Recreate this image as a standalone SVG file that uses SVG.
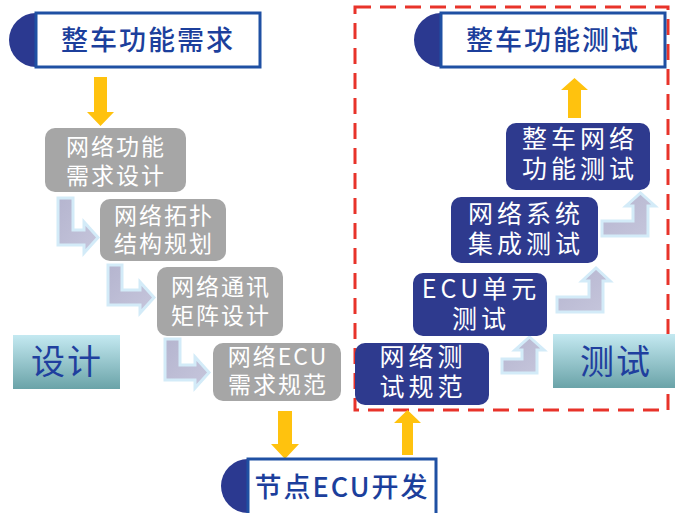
<svg xmlns="http://www.w3.org/2000/svg" width="675" height="513" viewBox="0 0 675 513">
  <defs>
    <linearGradient id="lbl" x1="0" y1="0" x2="0" y2="1">
      <stop offset="0" stop-color="#c4e9f1"/>
      <stop offset="1" stop-color="#6aa3a8"/>
    </linearGradient>
    <linearGradient id="bent" x1="0" y1="0" x2="1" y2="1">
      <stop offset="0" stop-color="#b5b5cf"/>
      <stop offset="1" stop-color="#c6c6dc"/>
    </linearGradient>
  </defs>
  <style>
    .hdr { fill: #ffffff; stroke: #1f50a3; stroke-width: 3; }
    .cap { fill: #2b3990; }
    .hdrt { font-family: "Noto Sans CJK SC", "Liberation Sans", sans-serif; font-size: 27px; font-weight: 500; fill: #1c3f9c; text-anchor: middle; letter-spacing: 2px; }
    .gray { fill: #a6a6a6; }
    .dark { fill: #2e3a8e; }
    .gt { font-family: "Noto Sans CJK SC", "Liberation Sans", sans-serif; font-size: 23px; fill: #ffffff; text-anchor: middle; letter-spacing: 2px; }
    .dt { font-family: "Noto Sans CJK SC", "Liberation Sans", sans-serif; font-size: 25px; fill: #ffffff; text-anchor: middle; letter-spacing: 4px; }
    .lbl { fill: url(#lbl); }
    .lblt { font-family: "Noto Sans CJK SC", "Liberation Sans", sans-serif; font-size: 34px; fill: #1f3f9e; text-anchor: middle; letter-spacing: 2px; }
    .yel { fill: #ffc20e; }
    .bent { fill: url(#bent); stroke: #d3ebf8; stroke-width: 3; stroke-linejoin: miter; }
    .zone { fill: none; stroke: #e8332a; stroke-width: 3; stroke-dasharray: 16 9; }
  </style>

  <rect class="zone" x="355" y="7" width="313" height="403"/>

  <g id="connectors">
    <polygon class="yel" points="94,77 107,77 107,112 114,112 100.5,126 87,112 94,112"/>
    <polygon class="yel" points="278,411 292,411 292,444 299,444 285,459 271,444 278,444"/>
    <polygon class="yel" points="402,455 413,455 413,423 421,423 407.5,410 394,423 402,423"/>
    <polygon class="yel" points="568,118 581,118 581,90 588,90 574.5,78 561,90 568,90"/>
    <path class="bent" d="M58,198 H73 V230 H84 V222 L98,237.5 L84,253 V245 H58 Z"/>
    <path class="bent" d="M108,265 H122 V290 H140 V282 L154,297.5 L140,313 V305 H108 Z"/>
    <path class="bent" d="M165,339 H180 V365 H195 V357 L209,372.5 L195,388 V380 H165 Z"/>
    <path class="bent" d="M502,359 H522 V350 H515 L529.5,337 L544,350 H537 V373 H502 Z"/>
    <path class="bent" d="M557,297 H589 V281 H582 L596,268 L610,281 H603 V312 H557 Z"/>
    <path class="bent" d="M602,221 H633 V206 H626 L640.5,193 L655,206 H648 V236 H602 Z"/>
  </g>

  <g id="req">
    <path class="cap" d="M36,13 A27,27 0 0 0 36,67 Z"/>
    <rect class="hdr" x="36" y="13" width="224" height="54"/>
    <text class="hdrt" x="148" y="50">整车功能需求</text>
  </g>

  <g id="vtest">
    <path class="cap" d="M441,13 A27,27 0 0 0 441,67 Z"/>
    <rect class="hdr" x="441" y="13" width="224" height="54"/>
    <text class="hdrt" x="553" y="50">整车功能测试</text>
  </g>

  <g id="ecu">
    <path class="cap" d="M248,459 A27,27 0 0 0 248,513 Z"/>
    <rect class="hdr" x="248" y="459" width="188" height="58"/>
    <text class="hdrt" x="342" y="497">节点ECU开发</text>
  </g>

  <g id="g1">
    <rect class="gray" x="45" y="128" width="141" height="64" rx="10"/>
    <text class="gt"><tspan x="116" y="155">网络功能</tspan><tspan x="116" y="184">需求设计</tspan></text>
  </g>
  <g id="g2">
    <rect class="gray" x="100" y="199" width="126" height="62" rx="10"/>
    <text class="gt"><tspan x="164" y="224">网络拓扑</tspan><tspan x="164" y="252">结构规划</tspan></text>
  </g>
  <g id="g3">
    <rect class="gray" x="157" y="267" width="126" height="69" rx="10"/>
    <text class="gt"><tspan x="221" y="295">网络通讯</tspan><tspan x="221" y="324">矩阵设计</tspan></text>
  </g>
  <g id="g4">
    <rect class="gray" x="213" y="343" width="128" height="58" rx="10"/>
    <text class="gt"><tspan x="278" y="365">网络ECU</tspan><tspan x="278" y="393">需求规范</tspan></text>
  </g>

  <g id="d1">
    <rect class="dark" x="506" y="123" width="144" height="67" rx="10"/>
    <text class="dt"><tspan x="580" y="148">整车网络</tspan><tspan x="580" y="178">功能测试</tspan></text>
  </g>
  <g id="d2">
    <rect class="dark" x="451" y="197" width="147" height="66" rx="10"/>
    <text class="dt"><tspan x="526" y="223">网络系统</tspan><tspan x="526" y="253">集成测试</tspan></text>
  </g>
  <g id="d3">
    <rect class="dark" x="413" y="273" width="134" height="63" rx="10"/>
    <text class="dt"><tspan x="481" y="298">ECU单元</tspan><tspan x="481" y="328">测试</tspan></text>
  </g>
  <g id="d4">
    <rect class="dark" x="355" y="343" width="134" height="62" rx="10"/>
    <text class="dt"><tspan x="423" y="366">网络测</tspan><tspan x="423" y="396">试规范</tspan></text>
  </g>

  <g id="design">
    <rect class="lbl" x="13" y="335" width="107" height="54"/>
    <text class="lblt" x="67" y="374">设计</text>
  </g>
  <g id="test">
    <rect class="lbl" x="553" y="334" width="122" height="54"/>
    <text class="lblt" x="616" y="374">测试</text>
  </g>
</svg>
